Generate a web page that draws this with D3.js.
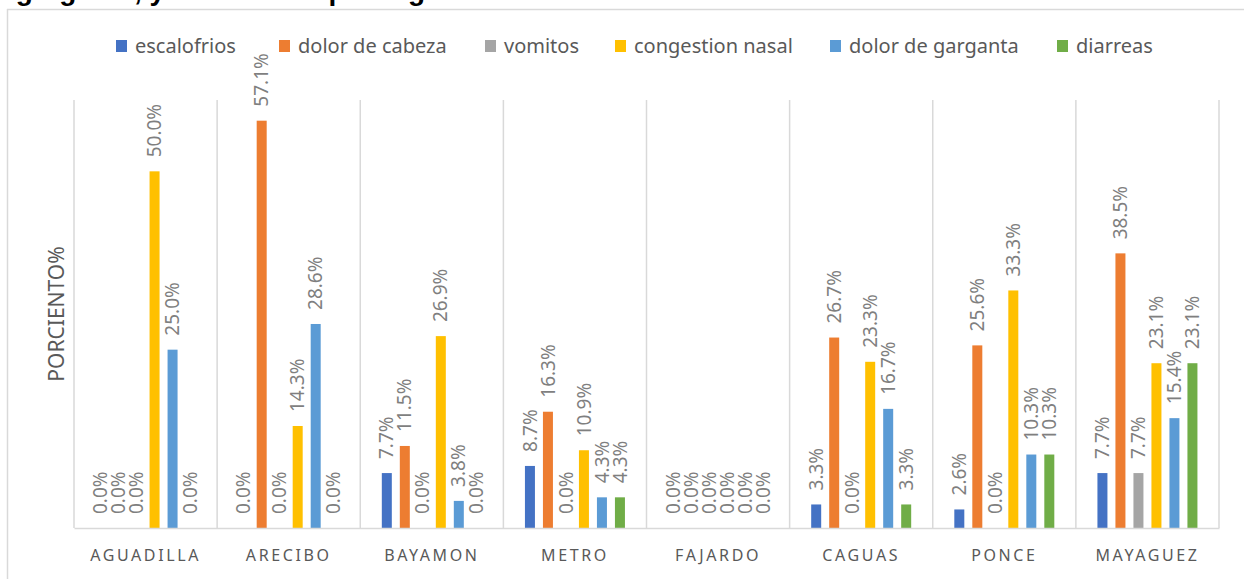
<!DOCTYPE html>
<html>
<head>
<meta charset="utf-8">
<script src="https://cdn.jsdelivr.net/npm/d3@7"></script>
<style>
  html, body { margin: 0; padding: 0; background: #ffffff; }
  svg { display: block; }
</style>
</head>
<body>
<svg id="chart" width="1244" height="579"></svg>
<script>
const categories = ["AGUADILLA", "ARECIBO", "BAYAMON", "METRO", "FAJARDO", "CAGUAS", "PONCE", "MAYAGUEZ"];
const seriesNames = ["escalofrios", "dolor de cabeza", "vomitos", "congestion nasal", "dolor de garganta", "diarreas"];
const seriesColors = ["#4472C4", "#ED7D31", "#A5A5A5", "#FFC000", "#5B9BD5", "#70AD47"];
const escalofrios     = [0.0, 0.0, 7.7, 8.7, 0.0, 3.3, 2.6, 7.7];
const dolorDeCabeza   = [0.0, 57.1, 11.5, 16.3, 0.0, 26.7, 25.6, 38.5];
const vomitos         = [0.0, 0.0, 0.0, 0.0, 0.0, 0.0, 0.0, 7.7];
const congestionNasal = [50.0, 14.3, 26.9, 10.9, 0.0, 23.3, 33.3, 23.1];
const dolorDeGarganta = [25.0, 28.6, 3.8, 4.3, 0.0, 16.7, 10.3, 15.4];
const diarreas        = [0.0, 0.0, 0.0, 4.3, 0.0, 3.3, 10.3, 23.1];
const seriesValues = [escalofrios, dolorDeCabeza, vomitos, congestionNasal, dolorDeGarganta, diarreas];
const yTitle = "PORCIENTO%";
const titlePrefix = "Síntomas: dolor de ";
const titleRest = "garganta, y escalofrios por region";

const svg = d3.select("#chart");
const FONT = "'Noto Sans', 'Liberation Sans', sans-serif";

// clipped title (only the descenders are visible, as in the reference)
const title = svg.append("text")
  .attr("y", 0)
  .attr("font-family", "'Liberation Sans', sans-serif")
  .attr("font-weight", "bold").attr("font-size", 28)
  .attr("fill", "#000");
title.text(titlePrefix);
const prefixW = title.node().getComputedTextLength();
title.text(titlePrefix + titleRest).attr("x", 8 - prefixW);

// chart outer frame (top and left edges)
svg.append("line").attr("x1", 7).attr("x2", 1244).attr("y1", 9.5).attr("y2", 9.5)
  .attr("stroke", "#d9d9d9").attr("stroke-width", 1.5);
svg.append("line").attr("x1", 7.5).attr("x2", 7.5).attr("y1", 9).attr("y2", 579)
  .attr("stroke", "#d9d9d9").attr("stroke-width", 1.5);

const plotLeft = 74, plotRight = 1219, plotTop = 100, plotBottom = 528;

const x0 = d3.scaleBand().domain(categories).range([plotLeft, plotRight]).paddingInner(0).paddingOuter(0);
const bw = x0.bandwidth();
const step = 18, barW = 10;
const pIn = (step - barW) / step;
const pOut = ((bw / step) - seriesNames.length + pIn) / 2;
const x1 = d3.scaleBand().domain(d3.range(seriesNames.length)).range([0, bw]).paddingInner(pIn).paddingOuter(pOut);
const y = d3.scaleLinear().domain([0, 60]).range([plotBottom, plotTop]);

// vertical separators
const sepPositions = categories.map(c => x0(c)).concat([plotRight]);
svg.append("g").selectAll("line").data(sepPositions).join("line")
  .attr("x1", d => d).attr("x2", d => d)
  .attr("y1", plotTop).attr("y2", plotBottom)
  .attr("stroke", "#d9d9d9").attr("stroke-width", 1.5);

// bars and labels
const groups = svg.append("g").selectAll("g").data(categories).join("g")
  .attr("transform", c => `translate(${x0(c)},0)`);

groups.each(function(c, ci) {
  const g = d3.select(this);
  seriesValues.forEach((vals, si) => {
    const v = vals[ci];
    if (v > 0) {
      g.append("rect")
        .attr("x", x1(si)).attr("width", x1.bandwidth())
        .attr("y", y(v)).attr("height", y(0) - y(v))
        .attr("fill", seriesColors[si]);
    }
    const cx = x1(si) + x1.bandwidth() / 2;
    g.append("text")
      .attr("transform", `translate(${cx},${y(v) - 14}) rotate(-90)`)
      .attr("dy", "0.35em")
      .attr("font-family", FONT).attr("font-size", 19)
      .attr("fill", "#7f7f7f")
      .text(v.toFixed(1) + "%");
  });
});

// baseline axis
const xAxis = d3.axisBottom(x0).tickSize(0).tickPadding(22);
const ax = svg.append("g").attr("transform", `translate(0,${plotBottom})`).call(xAxis);
ax.select(".domain").attr("stroke", "#d9d9d9").attr("stroke-width", 1.5);
ax.selectAll("text")
  .attr("font-family", FONT).attr("font-size", 16)
  .attr("fill", "#595959").attr("letter-spacing", "2.6px");

// y title
svg.append("text")
  .attr("transform", `translate(64,314) rotate(-90)`)
  .attr("text-anchor", "middle")
  .attr("font-family", FONT).attr("font-size", 21)
  .attr("fill", "#595959")
  .text(yTitle);

// legend
const legendX = [116, 279, 485, 615, 830, 1057];
const lg = svg.append("g").selectAll("g").data(seriesNames).join("g")
  .attr("transform", (d, i) => `translate(${legendX[i]},40)`);
lg.append("rect").attr("width", 11).attr("height", 12).attr("fill", (d, i) => seriesColors[i]);
lg.append("text").attr("x", 19).attr("y", 13)
  .attr("font-family", FONT).attr("font-size", 20)
  .attr("fill", "#595959")
  .text(d => d);
</script>
</body>
</html>
